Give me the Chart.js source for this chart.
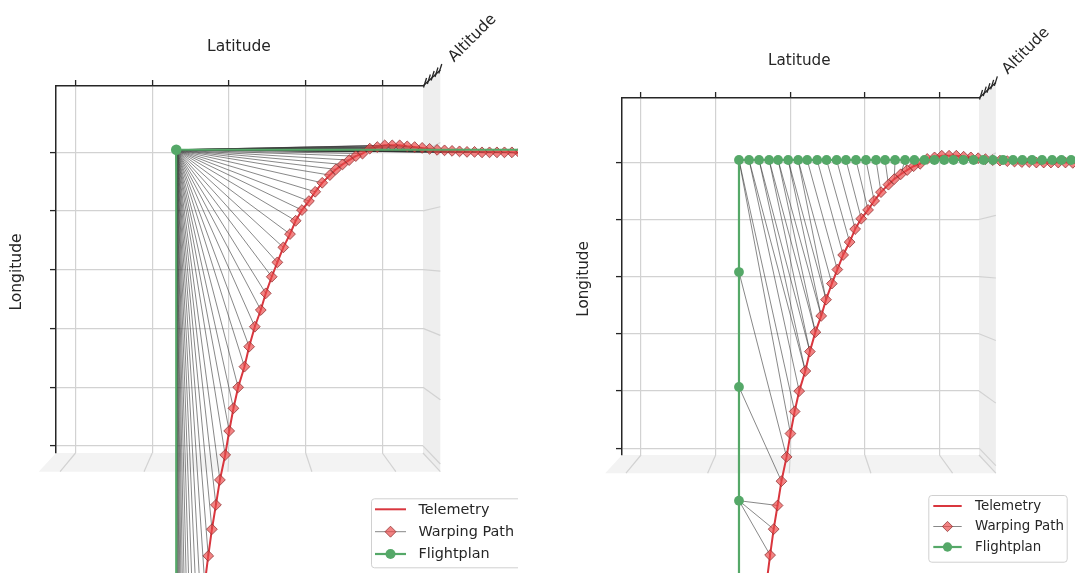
<!DOCTYPE html>
<html>
<head>
<meta charset="utf-8">
<script src="https://cdn.jsdelivr.net/npm/chart.js@4.4.1/dist/chart.umd.min.js"></script>
<style>
  html, body { margin: 0; padding: 0; background: #ffffff; }
  #wrap { position: relative; width: 1075px; height: 573px; overflow: hidden; }
  canvas { position: absolute; top: 0; }
  #left { left: 0; }
  #right { left: 537px; }
</style>
</head>
<body>
<div id="wrap">
  <canvas id="left" width="518" height="573"></canvas>
  <canvas id="right" width="538" height="573"></canvas>
</div>
<script>
// Axis ticks (the axes carry tick marks only, no numbers)
const latTicks = [0, 1, 2, 3, 4];
const lonTicks = [0, 1, 2, 3, 4, 5];
const latRange = [-0.255, 4.53];
const lonRange = [-0.12, 6.125];

// Recorded telemetry track, in flight order
const telemetryLat = [1.332, 1.342, 1.355, 1.371, 1.389, 1.410, 1.433, 1.459, 1.489, 1.521,
  1.558, 1.597, 1.638, 1.684, 1.730, 1.778, 1.830, 1.882, 1.951, 2.003,
  2.059, 2.120, 2.202, 2.263, 2.337, 2.415, 2.480, 2.558, 2.631, 2.709,
  2.796, 2.870, 2.952, 3.043, 3.125, 3.216, 3.316, 3.394, 3.481, 3.567,
  3.654, 3.741, 3.836, 3.934, 4.031, 4.129, 4.226, 4.324, 4.421, 4.519,
  4.616, 4.714, 4.811, 4.909, 5.006, 5.104, 5.202, 5.299, 5.397, 5.494,
  5.592, 5.689, 5.787, 5.884, 5.982];
const telemetryLon = [-9.855, -9.176, -8.513, -7.867, -7.239, -6.627, -6.032, -5.455, -4.894, -4.350,
  -3.823, -3.314, -2.821, -2.345, -1.871, -1.417, -1.003, -0.578, -0.153, 0.255,
  0.641, 0.998, 1.349, 1.689, 2.029, 2.313, 2.597, 2.879, 3.124, 3.379,
  3.605, 3.832, 4.014, 4.167, 4.325, 4.478, 4.609, 4.706, 4.791, 4.864,
  4.932, 4.974, 5.059, 5.086, 5.115, 5.115, 5.115, 5.098, 5.086, 5.072,
  5.055, 5.038, 5.030, 5.021, 5.013, 5.004, 5.004, 4.996, 4.996, 4.996,
  4.996, 4.996, 4.990, 4.990, 4.990];

// Flight plan with only its three waypoints (left panel)
const planALat = [1.313, 1.313, 6.200];
const planALon = [-10.200, 5.040, 5.040];

// Resampled flight plan (right panel)
const planBLat = [1.313, 1.313, 1.313, 1.313, 1.313, 1.313, 1.313, 1.313,
  1.448, 1.582, 1.717, 1.837, 1.972, 2.106, 2.227, 2.361, 2.487, 2.622,
  2.747, 2.881, 3.015, 3.150, 3.271, 3.405, 3.539, 3.664, 3.799, 3.933,
  4.063, 4.188, 4.322, 4.457, 4.591, 4.717, 4.852, 4.986, 5.111, 5.241,
  5.375, 5.510, 5.635, 5.765, 5.900, 6.030];
const planBLon = [-8.900, -6.910, -4.920, -2.930, -0.920, 1.070, 3.080, 5.040,
  5.040, 5.040, 5.040, 5.040, 5.040, 5.040, 5.040, 5.040, 5.040, 5.040,
  5.040, 5.040, 5.040, 5.040, 5.040, 5.040, 5.040, 5.040, 5.040, 5.040,
  5.040, 5.040, 5.040, 5.040, 5.040, 5.040, 5.040, 5.040, 5.040, 5.040,
  5.040, 5.040, 5.040, 5.040, 5.040, 5.040];

// DTW warping paths as [telemetry index, flight-plan index]
const warpA = [[0, 0], [1, 1], [2, 1], [3, 1], [4, 1], [5, 1], [6, 1], [7, 1], [8, 1], [9, 1],
  [10, 1], [11, 1], [12, 1], [13, 1], [14, 1], [15, 1], [16, 1], [17, 1], [18, 1], [19, 1],
  [20, 1], [21, 1], [22, 1], [23, 1], [24, 1], [25, 1], [26, 1], [27, 1], [28, 1], [29, 1],
  [30, 1], [31, 1], [32, 1], [33, 1], [34, 1], [35, 1], [36, 1], [37, 1], [38, 1], [39, 1],
  [40, 1], [41, 1], [42, 1], [43, 1], [44, 1], [45, 1], [46, 1], [47, 1], [48, 1], [49, 1],
  [50, 1], [51, 1], [52, 1], [53, 1], [54, 1], [55, 1], [56, 1], [57, 1], [58, 1], [59, 1],
  [60, 1], [61, 1], [62, 1], [63, 1], [64, 2]];
const warpB = [[0, 0], [1, 0], [2, 0], [3, 1], [4, 1], [5, 1], [6, 1], [7, 2], [8, 2], [9, 2],
  [10, 2], [11, 3], [12, 3], [13, 3], [14, 4], [15, 4], [16, 4], [17, 5], [18, 6], [19, 7],
  [20, 7], [21, 8], [22, 8], [22, 9], [23, 9], [23, 10], [24, 10], [24, 11], [25, 11], [25, 12],
  [26, 12], [26, 13], [27, 13], [28, 14], [29, 15], [30, 16], [31, 17], [32, 18], [33, 19], [34, 20],
  [35, 21], [36, 22], [37, 23], [38, 24], [39, 24], [40, 25], [41, 26], [42, 27], [43, 27], [44, 28],
  [45, 29], [46, 30], [47, 31], [48, 31], [49, 32], [50, 33], [51, 34], [52, 35], [53, 35], [54, 36],
  [55, 37], [56, 38], [57, 39], [58, 40], [59, 40], [60, 41], [61, 42], [62, 43], [63, 43], [64, 43]];

// Colours
const GREEN = '#55a868';
const RED = '#d9363e';
const WARP = 'rgba(50,50,50,0.58)';
const DIAMOND_FILL = 'rgba(236,72,72,0.68)';
const DIAMOND_EDGE = 'rgba(140,45,45,0.75)';
const GRID = '#d2d2d2';
const AXIS = '#262626';
const TEXT = '#262626';
const FONT = '"DejaVu Sans", "Liberation Sans", sans-serif';

// Page layout of each panel (canvas pixels)
const panels = {
  left: {
    area: { left: 56, top: 86, right: 423, bottom: 453 },
    latTitle: [239, 46.7], lonTitle: [17, 272], altTitle: [472.5, 38.3], titleSize: 15.5,
    legend: { x: 371, y: 498.3, w: 152, h: 69, rows: [509.3, 531.7, 554], lx0: 375, lx1: 406, tx: 418.4, font: 14.4, mk: 1 },
    fpRadius: 5.3
  },
  right: {
    area: { left: 85, top: 98, right: 442, bottom: 455 },
    latTitle: [262.3, 61], lonTitle: [47.4, 279], altTitle: [489, 51], titleSize: 15.2,
    legend: { x: 391.3, y: 495, w: 138.4, h: 66.7, rows: [506, 526.5, 547], lx0: 396.3, lx1: 424.7, tx: 438, font: 13.4, mk: 0.93 },
    fpRadius: 4.9
  }
};

function seg(ctx, x0, y0, x1, y1) {
  ctx.beginPath(); ctx.moveTo(x0, y0); ctx.lineTo(x1, y1); ctx.stroke();
}

function diamond(ctx, x, y, r) {
  ctx.beginPath();
  ctx.moveTo(x, y - r); ctx.lineTo(x + r, y); ctx.lineTo(x, y + r); ctx.lineTo(x - r, y);
  ctx.closePath();
}

// Markers are painted right after their own dataset so that the stacking
// order is kept, and so that they also show outside the axes box.
const markers = {
  id: 'markers',
  afterDatasetDraw(chart, args) {
    const ds = chart.data.datasets[args.index];
    const m = ds.marker;
    if (!m) return;
    const ctx = chart.ctx;
    ctx.save();
    const idx = m.at || args.meta.data.map((_, i) => i);
    idx.forEach(i => {
      const el = args.meta.data[i];
      if (!el) return;
      if (m.style === 'diamond') {
        diamond(ctx, el.x, el.y, m.radius);
        ctx.fillStyle = m.fill; ctx.fill();
        ctx.strokeStyle = m.edge; ctx.lineWidth = m.width; ctx.stroke();
      } else {
        ctx.beginPath(); ctx.arc(el.x, el.y, m.radius, 0, Math.PI * 2);
        ctx.fillStyle = m.fill; ctx.fill();
      }
    });
    ctx.restore();
  }
};

// Floor and side panes of the 3-D box, axis titles and the legend
const panes3d = {
  id: 'panes3d',
  beforeDraw(chart) {
    const { ctx, chartArea: a } = chart;
    const w = a.right - a.left, h = a.bottom - a.top;
    const vx = a.left + 0.5 * w, vy = a.top + 0.46 * h, k = 1.0944;
    const P = (x, y) => [vx + (x - vx) * k, vy + (y - vy) * k];
    const fl = P(a.left, a.bottom), fr = P(a.right, a.bottom), wt = P(a.right, a.top);
    ctx.save();
    ctx.fillStyle = '#f3f3f3';
    ctx.beginPath();
    ctx.moveTo(a.left, a.bottom); ctx.lineTo(a.right, a.bottom);
    ctx.lineTo(fr[0], fr[1]); ctx.lineTo(fl[0], fl[1]); ctx.closePath(); ctx.fill();
    ctx.fillStyle = '#eeeeee';
    ctx.beginPath();
    ctx.moveTo(a.right, a.top); ctx.lineTo(wt[0], wt[1]);
    ctx.lineTo(fr[0], fr[1]); ctx.lineTo(a.right, a.bottom); ctx.closePath(); ctx.fill();
    ctx.strokeStyle = GRID; ctx.lineWidth = 1.2;
    const xs = chart.scales.x, ys = chart.scales.y;
    latTicks.forEach(t => {
      const px = xs.getPixelForValue(t); const q = P(px, a.bottom);
      seg(ctx, px, a.bottom, q[0], q[1]);
    });
    lonTicks.forEach(v => {
      const py = ys.getPixelForValue(v); const q = P(a.right, py);
      seg(ctx, a.right, py, q[0], q[1]);
    });
    seg(ctx, a.right, a.bottom, fr[0], fr[1]);
    // altitude axis seen end-on
    ctx.strokeStyle = AXIS; ctx.lineWidth = 1.3;
    seg(ctx, a.right, a.top, wt[0], wt[1]);
    [0.06, 0.28, 0.5, 0.72, 0.94].forEach(f => {
      const x = a.right + (wt[0] - a.right) * f, y = a.top + (wt[1] - a.top) * f;
      seg(ctx, x - 0.5, y + 2.5, x + 2.5, y - 7);
    });
    ctx.restore();
  },
  afterDraw(chart) {
    const spec = panels[chart.canvas.id];
    const ctx = chart.ctx;
    ctx.save();
    ctx.fillStyle = TEXT;
    ctx.textAlign = 'center'; ctx.textBaseline = 'middle';
    ctx.font = spec.titleSize + 'px ' + FONT;
    ctx.fillText('Latitude', spec.latTitle[0], spec.latTitle[1]);
    ctx.save(); ctx.translate(spec.lonTitle[0], spec.lonTitle[1]); ctx.rotate(-Math.PI / 2);
    ctx.fillText('Longitude', 0, 0); ctx.restore();
    ctx.save(); ctx.translate(spec.altTitle[0], spec.altTitle[1]); ctx.rotate(-Math.PI / 4);
    ctx.fillText('Altitude', 0, 0); ctx.restore();

    // legend
    const L = spec.legend, s = L.mk;
    ctx.fillStyle = 'rgba(255,255,255,0.85)';
    ctx.strokeStyle = '#d0d0d0'; ctx.lineWidth = 1;
    ctx.beginPath(); ctx.roundRect(L.x + 0.5, L.y + 0.5, L.w, L.h, 3); ctx.fill(); ctx.stroke();
    const mid = (L.lx0 + L.lx1) / 2;
    ctx.strokeStyle = RED; ctx.lineWidth = 2;
    seg(ctx, L.lx0, L.rows[0], L.lx1, L.rows[0]);
    ctx.strokeStyle = WARP; ctx.lineWidth = 1;
    seg(ctx, L.lx0, L.rows[1], L.lx1, L.rows[1]);
    diamond(ctx, mid, L.rows[1], 5.5 * s);
    ctx.fillStyle = DIAMOND_FILL; ctx.fill();
    ctx.strokeStyle = DIAMOND_EDGE; ctx.stroke();
    ctx.strokeStyle = GREEN; ctx.lineWidth = 2.2;
    seg(ctx, L.lx0, L.rows[2], L.lx1, L.rows[2]);
    ctx.fillStyle = GREEN;
    ctx.beginPath(); ctx.arc(mid, L.rows[2], 5 * s, 0, Math.PI * 2); ctx.fill();
    ctx.fillStyle = TEXT; ctx.textAlign = 'left';
    ctx.font = L.font + 'px ' + FONT;
    ['Telemetry', 'Warping Path', 'Flightplan'].forEach((t, i) => ctx.fillText(t, L.tx, L.rows[i] + 0.5));
    ctx.restore();
  }
};

function build(id, planLat, planLon, warp) {
  const spec = panels[id];
  const tel = telemetryLat.map((x, i) => ({ x, y: telemetryLon[i] }));
  const plan = planLat.map((x, i) => ({ x, y: planLon[i] }));
  const datasets = [];
  datasets.push({
    label: 'Flightplan', data: plan, showLine: true, borderColor: GREEN, borderWidth: 2.2,
    pointRadius: 0, order: 0, clip: false,
    marker: { style: 'circle', radius: spec.fpRadius, fill: GREEN }
  });
  const marked = new Set();
  warp.forEach(([i, j]) => {
    // each telemetry sample carries one diamond, even when matched twice
    const first = !marked.has(i);
    marked.add(i);
    datasets.push({
      label: 'Warping Path', data: [tel[i], plan[j]], showLine: true, borderColor: WARP, borderWidth: 1,
      pointRadius: 0, order: 1, clip: false,
      marker: { style: 'diamond', radius: 5.4, fill: DIAMOND_FILL, edge: DIAMOND_EDGE, width: 1, at: first ? [0] : [] }
    });
  });
  datasets.push({
    label: 'Telemetry', data: tel, showLine: true, borderColor: RED, borderWidth: 2,
    pointRadius: 0, order: 2, clip: false
  });

  const canvas = document.getElementById(id);
  const a = spec.area;
  const gridOpts = { color: GRID, lineWidth: 1.2, tickColor: AXIS, tickWidth: 1.3, tickLength: 6, drawTicks: true };
  new Chart(canvas, {
    type: 'scatter',
    data: { datasets },
    plugins: [panes3d, markers],
    options: {
      responsive: false, devicePixelRatio: 1, animation: false, events: [],
      layout: { padding: { left: 0, top: 0, right: canvas.width - a.right, bottom: canvas.height - a.bottom } },
      plugins: { legend: { display: false }, tooltip: { enabled: false } },
      scales: {
        x: {
          type: 'linear', position: 'top', bounds: 'data',
          afterDataLimits(sc) { sc.min = latRange[0]; sc.max = latRange[1]; },
          afterBuildTicks(sc) { sc.ticks = latTicks.map(v => ({ value: v })); },
          afterFit(sc) { sc.height = a.top; },
          ticks: { display: false },
          grid: gridOpts,
          border: { display: true, color: AXIS, width: 1.5 }
        },
        y: {
          type: 'linear', position: 'left', bounds: 'data',
          afterDataLimits(sc) { sc.min = lonRange[0]; sc.max = lonRange[1]; },
          afterBuildTicks(sc) { sc.ticks = lonTicks.map(v => ({ value: v })); },
          afterFit(sc) { sc.width = a.left; },
          ticks: { display: false },
          grid: gridOpts,
          border: { display: true, color: AXIS, width: 1.5 }
        }
      }
    }
  });
}

build('left', planALat, planALon, warpA);
build('right', planBLat, planBLon, warpB);
</script>
</body>
</html>
